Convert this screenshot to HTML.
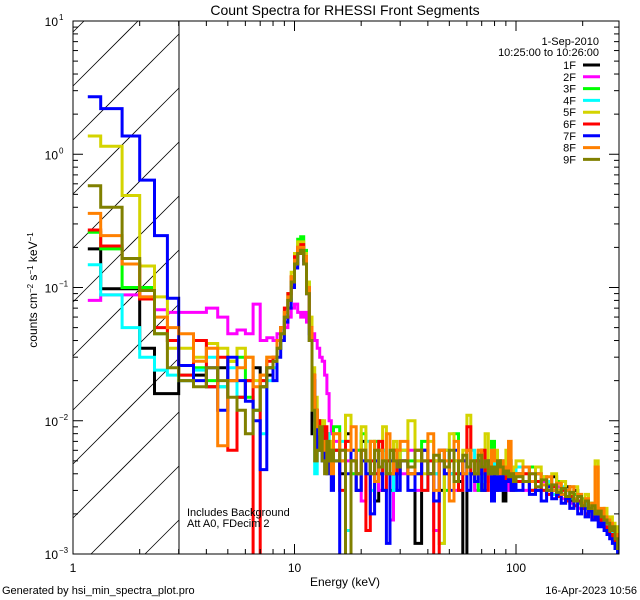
<!DOCTYPE html>
<html><head><meta charset="utf-8"><style>
body{margin:0;background:#fff;overflow:hidden}
svg{display:block;font-family:"Liberation Sans",sans-serif}
</style></head><body>
<svg id="c" width="640" height="600" viewBox="0 0 640 600">
<defs><clipPath id="pc"><rect x="73" y="21" width="546" height="533"/></clipPath></defs>
<rect width="640" height="600" fill="#fff"/>
<text x="345" y="15" font-size="14" text-anchor="middle">Count Spectra for RHESSI Front Segments</text>
<g id="hatch"></g>
<g id="series" clip-path="url(#pc)"></g>
<g id="axes"></g>
<text x="345" y="586" font-size="12" text-anchor="middle">Energy (keV)</text>
<text transform="translate(37,290) rotate(-90)" font-size="12" text-anchor="middle">counts cm<tspan dy="-4" font-size="8">−2</tspan><tspan dy="4"> s</tspan><tspan dy="-4" font-size="8">−1</tspan><tspan dy="4"> keV</tspan><tspan dy="-4" font-size="8">−1</tspan></text>
<text x="187" y="516" font-size="11">Includes Background</text>
<text x="187" y="527" font-size="11">Att A0, FDecim 2</text>
<text x="599" y="45" font-size="11" text-anchor="end">1-Sep-2010</text>
<text x="599" y="56" font-size="11" text-anchor="end">10:25:00 to 10:26:00</text>
<g id="legend"></g>
<text x="2" y="594" font-size="11">Generated by hsi_min_spectra_plot.pro</text>
<text x="637" y="594" font-size="11" text-anchor="end">16-Apr-2023 10:56</text>
</svg>
<script>
const segNames=["1F","2F","3F","4F","5F","6F","7F","8F","9F"];
const segColors=["#000","#ff00ff","#00ff00","#00ffff","#d4d400","#ff0000","#0000ff","#ff8000","#808000"];
const yTickLabels=["-3","-2","-1","0","1"];
const xTickLabels=["1","10","100"];
// energy bin edges (keV): explicit low part, then uniform ranges
const edges=[1.1667,1.3333,1.6667,2,2.3333,2.6667,3,3.5,4,4.5,5,5.5,6,6.5,7,7.5,8,8.333,8.667,9,9.333,9.667,10,10.333,10.667,11,11.333,11.667,12,12.333,12.667,13,13.333,13.667,14,14.333,14.667,15];
for(let e=16;e<=30;e+=1)edges.push(e);
for(let e=32.5;e<=100.01;e+=2.5)edges.push(e);
for(let e=107.5;e<=295.01;e+=7.5)edges.push(e);

const s1F=[.195,.098,.098,.035,.016,.016, .02,.022,.018,.025,.02,.015,.02,.025,.018,.022, .028,.035,.045,.06,.08,.11,.15,.19,.2,.16,.09,.04,.008,.012,.007,.009,.006,.007,.005,.006,.005,
.006,.004,.008,.005,.003,.007,.005,.004,.0025,.006,.005,.004,.006,.003,.005,
.005,.004,.0012,.006,.004,.005,.003,.006,.004,.005,.0035,.0009,.006,.004,.005,.004,.003,.005,.004,.006,.003,.004,.005,.0025,.004,.005,.004,.0035,
.004,.0045,.003,.004,.0035,.003,.0038,.003,.0028,.0032,.0025,.003,.0027,.0022,.0025,.0023,.002,.0022,.0019,.002,.0017,.0018,.0015,.0016,.0014,.0013];
const s2F=[.08,.088,.088,.085,.068,.065, .065,.065,.07,.06,.045,.048,.045,.075,.04,.042, .04,.045,.045,.05,.06,.07,.075,.065,.06,.065,.055,.05,.045,.04,.035,.03,.028,.022,.016,.01,.008,
.007,.006,.005,.004,.006,.0025,.005,.004,.006,.003,.005,.004,.0018,.005,.004,
.004,.006,.003,.005,.004,.0015,.005,.006,.004,.003,.005,.004,.006,.004,.003,.005,.004,.0035,.005,.004,.003,.005,.004,.0045,.003,.004,.0035,.004,
.0035,.003,.004,.003,.0035,.0028,.003,.0032,.0026,.003,.0024,.0028,.0022,.0025,.002,.0023,.0019,.002,.0021,.0017,.0018,.0016,.0015,.0014,.0013,.0012];
const s3F=[.26,.195,.10,.10,.045,.04, .022,.025,.02,.018,.028,.03,.015,.012,.02,.025, .03,.04,.05,.065,.09,.12,.17,.23,.24,.19,.11,.05,.02,.012,.009,.01,.007,.006,.008,.005,.006,
.009,.005,.007,.004,.006,.008,.004,.005,.007,.004,.006,.005,.003,.006,.005,
.006,.005,.004,.007,.005,.004,.006,.003,.005,.008,.004,.005,.006,.004,.005,.003,.006,.004,.005,.007,.004,.005,.004,.003,.005,.004,.0045,.004,
.004,.0035,.0045,.003,.0038,.0033,.003,.0035,.0028,.003,.0026,.0028,.0024,.0026,.0022,.0024,.002,.0022,.0019,.002,.0018,.0017,.0016,.0015,.0014,.0012];
const s4F=[.148,.088,.05,.03,.024,.022, .02,.024,.03,.018,.025,.015,.02,.012,.008,.02, .025,.035,.045,.06,.08,.11,.16,.2,.21,.17,.1,.05,.02,.004,.007,.009,.005,.006,.008,.005,.004,
.005,.007,.0015,.006,.004,.005,.007,.003,.005,.004,.006,.004,.005,.003,.004,
.006,.004,.005,.003,.005,.004,.0012,.006,.004,.005,.003,.005,.004,.006,.004,.005,.0035,.004,.005,.006,.004,.003,.005,.004,.0045,.0035,.004,.003,
.0045,.0035,.003,.004,.003,.0035,.0028,.003,.0032,.0026,.0028,.0025,.0027,.0022,.0024,.002,.0022,.0019,.002,.0018,.0017,.0016,.0015,.0013,.0012,.0009];
const s5F=[1.37,1.15,.49,.145,.085,.035, .035,.03,.038,.035,.028,.035,.03,.02,.022,.03, .03,.04,.05,.07,.09,.13,.18,.22,.22,.18,.11,.06,.025,.015,.01,.006,.01,.008,.006,.005,.007,
.008,.005,.011,.006,.004,.009,.005,.007,.004,.006,.009,.005,.004,.007,.005,
.006,.01,.005,.004,.007,.005,.0012,.006,.008,.005,.004,.006,.011,.005,.004,.006,.005,.008,.004,.005,.006,.004,.005,.004,.006,.005,.004,.0045,
.005,.004,.0035,.0045,.0038,.0032,.004,.003,.0035,.003,.0028,.0032,.0027,.0025,.0028,.0024,.0022,.005,.0021,.002,.0022,.0018,.0019,.0017,.0016,.0014];
const s6F=[.27,.205,.15,.082,.05,.04, .022,.04,.018,.03,.006,.015,.02,.0005,.02,.028, .03,.04,.05,.07,.09,.12,.17,.2,.21,.17,.1,.05,.022,.012,.01,.008,.006,.009,.005,.006,.004,
.006,.003,.007,.005,.004,.006,.0015,.005,.004,.007,.003,.005,.004,.006,.004,
.005,.004,.006,.003,.005,.0008,.006,.004,.005,.004,.003,.005,.009,.004,.005,.004,.006,.003,.005,.004,.003,.005,.004,.003,.004,.0035,.003,.004,
.0035,.004,.003,.0035,.003,.0028,.0032,.0027,.003,.0025,.0027,.0023,.0025,.0022,.002,.0022,.0019,.0018,.002,.0017,.0016,.0015,.0014,.0013,.0012,.0011];
const s7F=[2.7,2.2,1.37,.64,.245,.083, .026,.02,.025,.012,.03,.02,.014,.01,.0043,.025, .02,.03,.04,.055,.07,.1,.14,.18,.19,.15,.09,.045,.02,.01,.006,.008,.005,.007,.004,.005,.003,
.005,.0008,.004,.006,.003,.005,.004,.002,.005,.004,.003,.0012,.005,.004,.003,
.005,.003,.004,.006,.004,.0025,.005,.004,.003,.006,.004,.005,.003,.004,.0035,.005,.003,.004,.005,.0025,.004,.003,.004,.003,.0035,.004,.003,.0035,
.003,.0035,.0028,.003,.0025,.0032,.0026,.0028,.0024,.0026,.0022,.0025,.002,.0023,.0019,.0021,.0018,.0019,.0016,.0017,.0015,.0014,.0013,.0012,.0011,.001];
const s8F=[.36,.245,.15,.085,.06,.05, .045,.028,.035,.0065,.02,.025,.03,.018,.022,.03, .03,.04,.05,.065,.085,.12,.16,.2,.2,.17,.1,.05,.022,.012,.009,.008,.006,.007,.005,.006,.004,
.008,.005,.006,.009,.004,.006,.005,.007,.0035,.006,.005,.008,.004,.005,.006,
.007,.004,.006,.005,.008,.003,.006,.005,.0025,.007,.005,.004,.006,.005,.004,.006,.0045,.005,.004,.006,.005,.004,.005,.0045,.004,.007,.004,.0035,
.004,.0045,.0035,.004,.0033,.0038,.003,.0034,.0028,.003,.0032,.0026,.0028,.0024,.0026,.0022,.0024,.0045,.002,.0022,.0019,.0018,.0017,.0016,.0014,.0013];
const s9F=[.58,.40,.165,.095,.045,.025, .02,.018,.025,.02,.015,.012,.008,.012,.018,.025, .028,.035,.045,.06,.08,.11,.15,.18,.19,.15,.09,.04,.012,.005,.006,.009,.005,.004,.007,.005,.006,
.005,.006,.0009,.005,.004,.006,.005,.004,.006,.0045,.005,.004,.006,.005,.0045,
.005,.0045,.006,.005,.004,.0055,.005,.0045,.006,.0035,.005,.0055,.0045,.005,.004,.0055,.0045,.005,.004,.0045,.004,.005,.0045,.004,.0042,.0038,.004,.0035,
.0038,.0035,.004,.0032,.0036,.003,.0033,.0029,.0031,.0027,.0029,.0025,.0027,.0023,.0025,.0022,.0023,.002,.0021,.0019,.0018,.0017,.0015,.0016,.0013,.0011];
const series=[s1F,s2F,s3F,s4F,s5F,s6F,s7F,s8F,s9F];

const NS="http://www.w3.org/2000/svg";
const L=73,R=619,T=21,B=554,DX=221.5,DY=133.25,HX=179;
function xs(e){return Math.min(R,L+Math.log10(e)*DX);}
function ys(v){return Math.min(B+2,T+(1-Math.log10(v))*DY);}
function mk(tag,attrs,parent){const el=document.createElementNS(NS,tag);for(const k in attrs)el.setAttribute(k,attrs[k]);parent.appendChild(el);return el;}

// hatch lines clipped manually to the region x in [L,HX], y in [T,B]
const hg=document.getElementById('hatch');
for(let c=86-54*3;c<B+(HX-L)+54;c+=54){
  // y = c - (x-L)
  let x1=L,y1=c; if(y1>B){x1=L+(y1-B);y1=B;}
  let x2=HX,y2=c-(HX-L); if(y2<T){x2=L+(c-T);y2=T;}
  if(x1>=x2||x1>HX||x2<L)continue;
  const ln=mk('line',{x1:x1,y1:y1,x2:x2,y2:y2,stroke:'#000','stroke-width':0.8},hg);
  
  
}
// series
const sg=document.getElementById('series');
series.forEach((vals,si)=>{
  let d='';
  const n=Math.min(vals.length,edges.length-1);
  for(let i=0;i<n;i++){
    const y=ys(vals[i]).toFixed(1);
    d+=(i===0?'M':'L')+xs(edges[i]).toFixed(1)+','+y+'L'+xs(edges[i+1]).toFixed(1)+','+y;
  }
  const p=mk('path',{d:d,fill:'none',stroke:segColors[si],'stroke-width':3},sg);
  
  
});
// axes
const ag=document.getElementById('axes');
const box=mk('rect',{x:L,y:T,width:R-L,height:B-T,fill:'none',stroke:'#000','stroke-width':1},ag);


mk('line',{x1:HX,y1:T,x2:HX,y2:B,stroke:'#000','stroke-width':1},ag);
for(let dec=0;dec<3;dec++){
  for(let m=1;m<10;m++){
    const e=m*Math.pow(10,dec); if(L+Math.log10(e)*DX>R)break;
    const x=xs(e), len=m===1?10:5;
    mk('line',{x1:x,y1:B,x2:x,y2:B-len,stroke:'#000'},ag);
    mk('line',{x1:x,y1:T,x2:x,y2:T+len,stroke:'#000'},ag);
  }
}
xTickLabels.forEach((t,i)=>{
  const tx=mk('text',{x:xs(Math.pow(10,i)),y:572,'font-size':12,'text-anchor':'middle'},ag);
  tx.textContent=t;
  
  
});
for(let p=-3;p<1;p++){
  for(let m=1;m<10;m++){
    const v=m*Math.pow(10,p); const y=ys(v), len=m===1?10:5;
    mk('line',{x1:L,y1:y,x2:L+len,y2:y,stroke:'#000'},ag);
    mk('line',{x1:R,y1:y,x2:R-len,y2:y,stroke:'#000'},ag);
  }
}
yTickLabels.forEach(t=>{
  const y=ys(Math.pow(10,+t));
  const tx=mk('text',{x:58,y:y+5,'font-size':12,'text-anchor':'end'},ag);
  tx.textContent='10';
  
  
  const sp=mk('text',{x:59,y:y-1,'font-size':8},ag);
  sp.textContent=t.replace('-','−');
});
// legend
const lg=document.getElementById('legend');
segNames.forEach((n,i)=>{
  const y=65+i*11.8;
  const g=mk('g',{},lg);
  
  
  const tx=mk('text',{x:576,y:y+4,'font-size':11,'text-anchor':'end'},g);
  tx.textContent=n;
  mk('line',{x1:583,y1:y,x2:600,y2:y,stroke:segColors[i],'stroke-width':3},g);
});
</script>
</body></html>
